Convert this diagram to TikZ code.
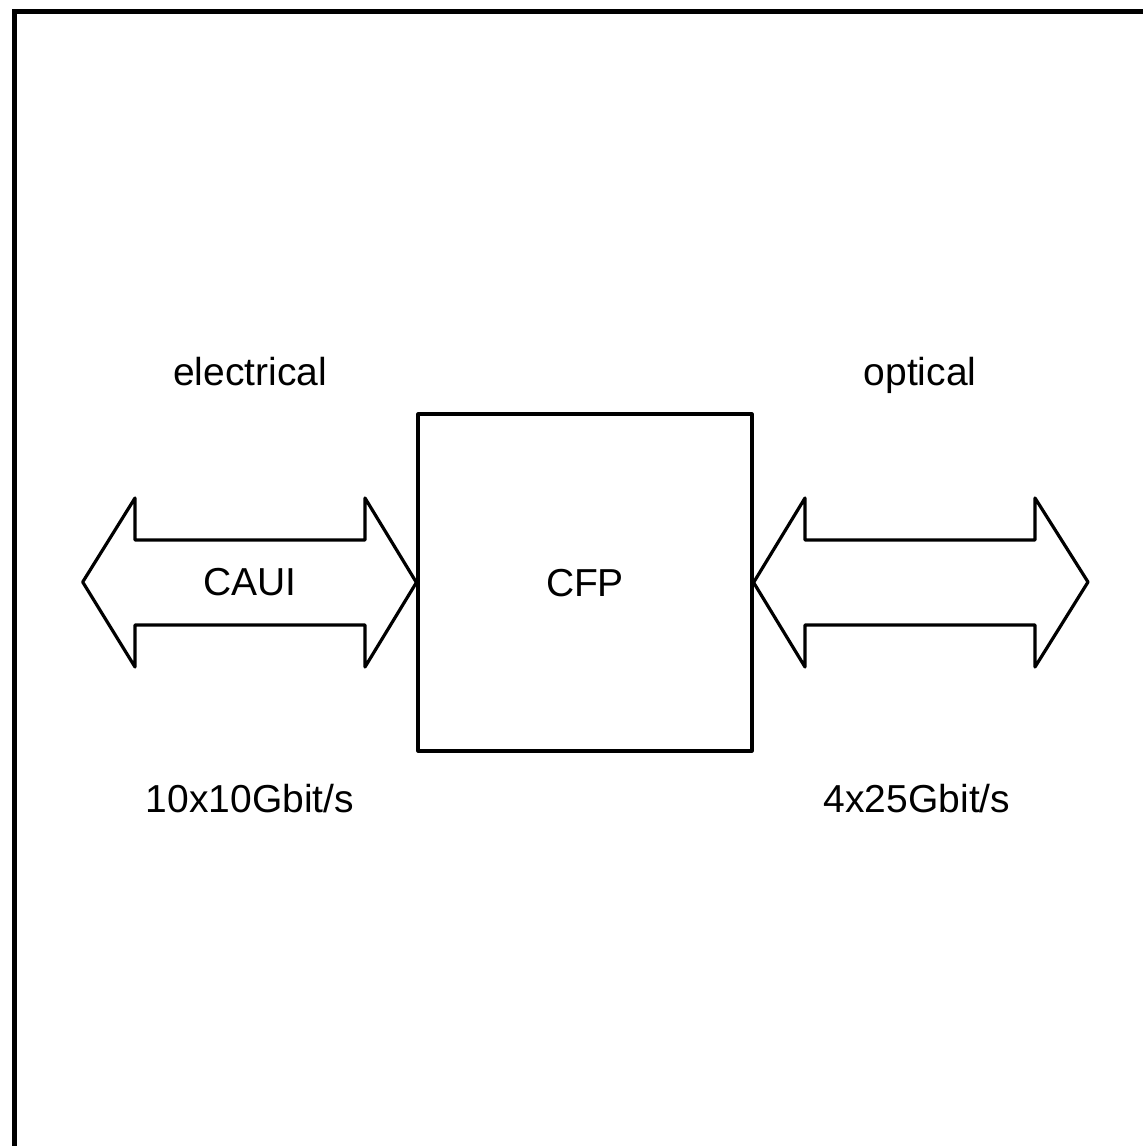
\documentclass[tikz,border=0pt]{standalone}
\usepackage{fontspec}
\setmainfont{Liberation Sans}
\begin{document}
\begin{tikzpicture}[x=1pt,y=-1pt,
  line join=miter,
  frame/.style={line width=5pt},
  shape line/.style={line width=3.2pt,line join=round},
  lbl/.style={font=\fontsize{39}{44}\selectfont,inner sep=0pt,anchor=center,
    text height=27.9pt,text depth=0pt}]
\useasboundingbox (0,0) rectangle (1143,1146);
% outer frame (right and bottom edges lie beyond the picture)
\draw[frame] (14,1146) -- (14,11) -- (1143,11);
% CFP box
\node[draw,shape line,minimum width=334pt,minimum height=337pt,inner sep=0pt] (cfp) at (585,582.5) {};
\node[lbl] (cfptxt) at (cfp.center) {CFP};
% left double arrow (CAUI)
\draw[shape line] (82.7,582) -- (135,498) -- (135,540) -- (365,540) -- (365,498)
  -- (cfp.west) -- (365,667) -- (365,625) -- (135,625) -- (135,667) -- cycle;
\node[lbl] (caui) at (250,582) {CAUI};
% right double arrow
\draw[shape line] (cfp.east) -- (805,498) -- (805,540) -- (1035,540) -- (1035,498)
  -- (1088,582) -- (1035,667) -- (1035,625) -- (805,625) -- (805,667) -- cycle;
% labels
\node[lbl] (elec) at (250,372) {electrical};
\node[lbl] (opt) at (920,372) {optical};
\node[lbl] (lrate) at (250,799) {10x10Gbit/s};
\node[lbl] (rrate) at (917,799) {4x25Gbit/s};
\end{tikzpicture}
\end{document}
